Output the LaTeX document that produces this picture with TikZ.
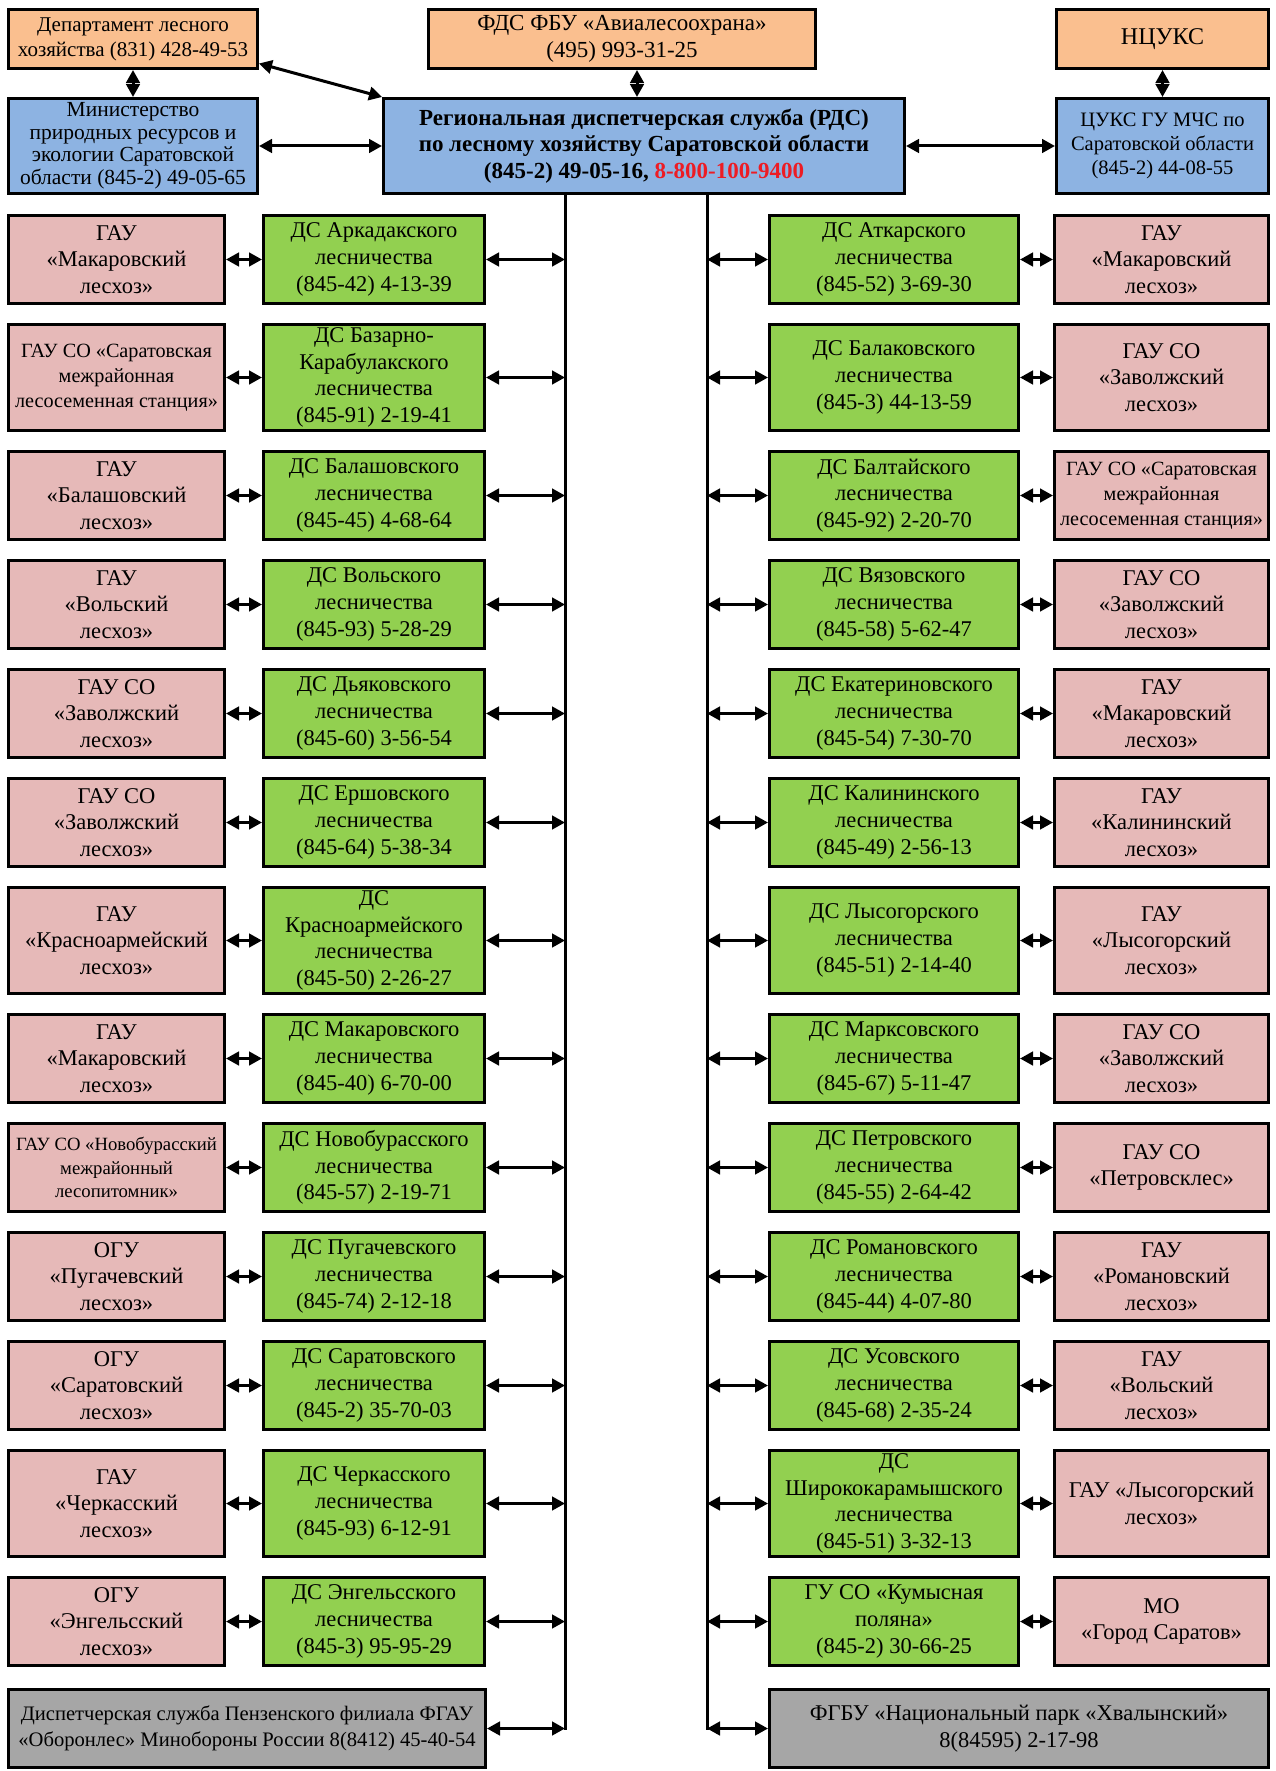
\documentclass[tikz,border=0pt]{standalone}
\usepackage{fontspec}
\setmainfont{Liberation Serif}
\usetikzlibrary{arrows.meta}
\definecolor{cOr}{RGB}{250,191,143}
\definecolor{cBl}{RGB}{141,179,226}
\definecolor{cPk}{RGB}{230,185,184}
\definecolor{cGr}{RGB}{146,208,80}
\definecolor{cGy}{RGB}{166,166,166}
\definecolor{cRd}{RGB}{237,28,36}
\newcommand\fN{\fontsize{22.5}{26.7}\selectfont}
\newcommand\fS{\fontsize{20.2}{25}\selectfont}
\newcommand\fT{\fontsize{18.7}{23.5}\selectfont}
\tikzset{
  bx/.style={draw=black, line width=3.2pt, inner xsep=1pt, inner ysep=0pt, align=center, font=\fN},
  orbox/.style={bx, fill=cOr},
  blbox/.style={bx, fill=cBl},
  pkbox/.style={bx, fill=cPk},
  grbox/.style={bx, fill=cGr},
  gybox/.style={bx, fill=cGy, minimum height=77.8pt},
  gL/.style={grbox, minimum width=220.8pt},
  gR/.style={grbox, minimum width=248.8pt},
  pL/.style={pkbox, minimum width=215.8pt},
  pR/.style={pkbox, minimum width=213.8pt},
  hA/.style={minimum height=87.8pt},
  hB/.style={minimum height=105.8pt},
  arr/.style={line width=3pt, {Triangle[length=13pt,width=13.5pt]}-{Triangle[length=13pt,width=13.5pt]}},
  bus/.style={line width=3pt, line cap=rect},
}
\begin{document}
\begin{tikzpicture}[x=1pt, y=-1pt]
\useasboundingbox (0,0) rectangle (1275,1771);
\fill[white] (0,0) rectangle (1275,1771);

% top rows
\node[orbox, minimum width=248.8pt, minimum height=58.8pt, font=\fontsize{21}{25}\selectfont] (dep) at (133,39) {Департамент лесного\\хозяйства (831) 428-49-53};
\node[orbox, minimum width=386.8pt, minimum height=58.8pt, font=\fontsize{23}{27}\selectfont] (fds) at (622,39) {ФДС ФБУ «Авиалесоохрана»\\(495) 993-31-25};
\node[orbox, minimum width=211.8pt, minimum height=58.8pt, font=\fontsize{24}{27}\selectfont] (ncuks) at (1162.5,39) {НЦУКС};
\node[blbox, minimum width=248.8pt, minimum height=94.8pt, font=\fontsize{21.5}{22.5}\selectfont] (min) at (133,146) {Министерство\\природных ресурсов и\\экологии Саратовской\\области (845-2) 49-05-65};
\node[blbox, minimum width=520.8pt, minimum height=94.8pt, font=\fontsize{23}{26.5}\selectfont\bfseries] (rds) at (644,146) {Региональная диспетчерская служба (РДС)\\по лесному хозяйству Саратовской области\\(845-2) 49-05-16, \textcolor{cRd}{8-800-100-9400}};
\node[blbox, minimum width=211.8pt, minimum height=94.8pt, font=\fontsize{20.5}{24}\selectfont] (cuks) at (1162.5,146) {ЦУКС ГУ МЧС по\\Саратовской области\\(845-2) 44-08-55};

\coordinate (fdsx) at (637,0);
\coordinate (busL) at (565,195);
\coordinate (busR) at (707,195);

\draw[arr] (dep.south) -- (min.north);
\draw[arr] (fds.south -| fdsx) -- (rds.north -| fdsx);
\draw[arr] (ncuks.south) -- (cuks.north);
\draw[arr] (dep.-11) -- (rds.north west);
\draw[arr] (min.east) -- (rds.west);
\draw[arr] (rds.east) -- (cuks.west);

% left column
\node[pL,hA] (pl1) at (116.5,259.5) {ГАУ\\«Макаровский\\лесхоз»};
\node[gL,hA] (gl1) at (374,259.5) {ДС Аркадакского\\лесничества\\(845-42) 4-13-39};
\node[pL,hB,font=\fS] (pl2) at (116.5,377.5) {ГАУ СО «Саратовская\\межрайонная\\лесосеменная станция»};
\node[gL,hB] (gl2) at (374,377.5) {ДС Базарно-\\Карабулакского\\лесничества\\(845-91) 2-19-41};
\node[pL,hA] (pl3) at (116.5,495.5) {ГАУ\\«Балашовский\\лесхоз»};
\node[gL,hA] (gl3) at (374,495.5) {ДС Балашовского\\лесничества\\(845-45) 4-68-64};
\node[pL,hA] (pl4) at (116.5,604.5) {ГАУ\\«Вольский\\лесхоз»};
\node[gL,hA] (gl4) at (374,604.5) {ДС Вольского\\лесничества\\(845-93) 5-28-29};
\node[pL,hA] (pl5) at (116.5,713.5) {ГАУ СО\\«Заволжский\\лесхоз»};
\node[gL,hA] (gl5) at (374,713.5) {ДС Дьяковского\\лесничества\\(845-60) 3-56-54};
\node[pL,hA] (pl6) at (116.5,822.5) {ГАУ СО\\«Заволжский\\лесхоз»};
\node[gL,hA] (gl6) at (374,822.5) {ДС Ершовского\\лесничества\\(845-64) 5-38-34};
\node[pL,hB] (pl7) at (116.5,940.5) {ГАУ\\«Красноармейский\\лесхоз»};
\node[gL,hB] (gl7) at (374,940.5) {ДС\\Красноармейского\\лесничества\\(845-50) 2-26-27};
\node[pL,hA] (pl8) at (116.5,1058.5) {ГАУ\\«Макаровский\\лесхоз»};
\node[gL,hA] (gl8) at (374,1058.5) {ДС Макаровского\\лесничества\\(845-40) 6-70-00};
\node[pL,hA,font=\fT] (pl9) at (116.5,1167.5) {ГАУ СО «Новобурасский\\межрайонный\\лесопитомник»};
\node[gL,hA] (gl9) at (374,1167.5) {ДС Новобурасского\\лесничества\\(845-57) 2-19-71};
\node[pL,hA] (pl10) at (116.5,1276.5) {ОГУ\\«Пугачевский\\лесхоз»};
\node[gL,hA] (gl10) at (374,1276.5) {ДС Пугачевского\\лесничества\\(845-74) 2-12-18};
\node[pL,hA] (pl11) at (116.5,1385.5) {ОГУ\\«Саратовский\\лесхоз»};
\node[gL,hA] (gl11) at (374,1385.5) {ДС Саратовского\\лесничества\\(845-2) 35-70-03};
\node[pL,hB] (pl12) at (116.5,1503.5) {ГАУ\\«Черкасский\\лесхоз»};
\node[gL,hB] (gl12) at (374,1503.5) {ДС Черкасского\\лесничества\\(845-93) 6-12-91};
\node[pL,hA] (pl13) at (116.5,1621.5) {ОГУ\\«Энгельсский\\лесхоз»};
\node[gL,hA] (gl13) at (374,1621.5) {ДС Энгельсского\\лесничества\\(845-3) 95-95-29};
\node[gybox, minimum width=476.8pt, font=\fontsize{20.6}{26}\selectfont] (pz) at (247,1728.5) {Диспетчерская служба Пензенского филиала ФГАУ\\«Оборонлес» Минобороны России 8(8412) 45-40-54};

% right column
\node[gR,hA] (gr1) at (894,259.5) {ДС Аткарского\\лесничества\\(845-52) 3-69-30};
\node[pR,hA] (pr1) at (1161.5,259.5) {ГАУ\\«Макаровский\\лесхоз»};
\node[gR,hB] (gr2) at (894,377.5) {ДС Балаковского\\лесничества\\(845-3) 44-13-59};
\node[pR,hB] (pr2) at (1161.5,377.5) {ГАУ СО\\«Заволжский\\лесхоз»};
\node[gR,hA] (gr3) at (894,495.5) {ДС Балтайского\\лесничества\\(845-92) 2-20-70};
\node[pR,hA,font=\fS] (pr3) at (1161.5,495.5) {ГАУ СО «Саратовская\\межрайонная\\лесосеменная станция»};
\node[gR,hA] (gr4) at (894,604.5) {ДС Вязовского\\лесничества\\(845-58) 5-62-47};
\node[pR,hA] (pr4) at (1161.5,604.5) {ГАУ СО\\«Заволжский\\лесхоз»};
\node[gR,hA] (gr5) at (894,713.5) {ДС Екатериновского\\лесничества\\(845-54) 7-30-70};
\node[pR,hA] (pr5) at (1161.5,713.5) {ГАУ\\«Макаровский\\лесхоз»};
\node[gR,hA] (gr6) at (894,822.5) {ДС Калининского\\лесничества\\(845-49) 2-56-13};
\node[pR,hA] (pr6) at (1161.5,822.5) {ГАУ\\«Калининский\\лесхоз»};
\node[gR,hB] (gr7) at (894,940.5) {ДС Лысогорского\\лесничества\\(845-51) 2-14-40};
\node[pR,hB] (pr7) at (1161.5,940.5) {ГАУ\\«Лысогорский\\лесхоз»};
\node[gR,hA] (gr8) at (894,1058.5) {ДС Марксовского\\лесничества\\(845-67) 5-11-47};
\node[pR,hA] (pr8) at (1161.5,1058.5) {ГАУ СО\\«Заволжский\\лесхоз»};
\node[gR,hA] (gr9) at (894,1167.5) {ДС Петровского\\лесничества\\(845-55) 2-64-42};
\node[pR,hA] (pr9) at (1161.5,1167.5) {ГАУ СО\\«Петровсклес»};
\node[gR,hA] (gr10) at (894,1276.5) {ДС Романовского\\лесничества\\(845-44) 4-07-80};
\node[pR,hA] (pr10) at (1161.5,1276.5) {ГАУ\\«Романовский\\лесхоз»};
\node[gR,hA] (gr11) at (894,1385.5) {ДС Усовского\\лесничества\\(845-68) 2-35-24};
\node[pR,hA] (pr11) at (1161.5,1385.5) {ГАУ\\«Вольский\\лесхоз»};
\node[gR,hB] (gr12) at (894,1503.5) {ДС\\Ширококарамышского\\лесничества\\(845-51) 3-32-13};
\node[pR,hB] (pr12) at (1161.5,1503.5) {ГАУ «Лысогорский\\лесхоз»};
\node[gR,hA] (gr13) at (894,1621.5) {ГУ СО «Кумысная\\поляна»\\(845-2) 30-66-25};
\node[pR,hA] (pr13) at (1161.5,1621.5) {МО\\«Город Саратов»};
\node[gybox, minimum width=498.8pt, font=\fontsize{22.5}{27}\selectfont] (hv) at (1019,1728.5) {ФГБУ «Национальный парк «Хвалынский»\\8(84595) 2-17-98};

% buses
\draw[bus] (rds.south -| busL) -- (pz.east -| busL);
\draw[bus] (rds.south -| busR) -- (hv.west -| busR);

\foreach \i in {1,...,13}{
  \draw[arr] (pl\i.east) -- (gl\i.west);
  \draw[arr] (gl\i.east) -- (gl\i.east -| busL);
  \draw[arr] (gr\i.west -| busR) -- (gr\i.west);
  \draw[arr] (gr\i.east) -- (pr\i.west);
}
\draw[arr] (pz.east) -- (pz.east -| busL);
\draw[arr] (hv.west -| busR) -- (hv.west);
\end{tikzpicture}
\end{document}
